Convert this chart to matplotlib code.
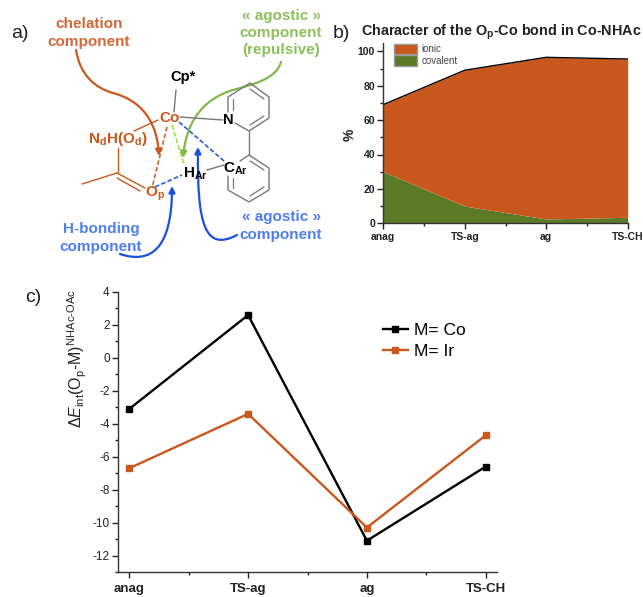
import matplotlib
matplotlib.use('Agg')
import matplotlib.pyplot as plt
from matplotlib.patches import FancyArrowPatch, Patch
from matplotlib.path import Path

plt.rcParams['font.family'] = ['Liberation Sans', 'DejaVu Sans']
plt.rcParams['mathtext.fontset'] = 'custom'
plt.rcParams['mathtext.rm'] = 'Liberation Sans'
plt.rcParams['mathtext.it'] = 'Liberation Sans:italic'
plt.rcParams['mathtext.bf'] = 'Liberation Sans:bold'

W, H = 643, 597

# data
states = ['anag', 'TS-ag', 'ag', 'TS-CH']
covalent = [30, 10, 2.5, 3.5]
ionic = [39, 79, 94, 92]
e_co = [-3.1, 2.6, -11.1, -6.6]
e_ir = [-6.7, -3.4, -10.3, -4.7]

ORANGE = '#c8581e'
GREEN = '#5a7a26'
T_ORANGE = '#d2683a'
T_GREEN = '#8dbf5a'
T_BLUE = '#4f7fef'
BLUE = '#1a50e0'
TEXT = '#222222'


def px_axes(fig, left, top, right, bottom):
    return fig.add_axes([left / W, 1 - bottom / H, (right - left) / W, (bottom - top) / H])


def style_axis(ax, size):
    ax.spines['top'].set_visible(False)
    ax.spines['right'].set_visible(False)
    ax.tick_params(which='major', length=4, width=1, labelsize=size, pad=2, colors=TEXT)
    ax.tick_params(which='minor', length=2, width=1, colors=TEXT)
    for s in ['left', 'bottom']:
        ax.spines[s].set_color('#333333')
        ax.spines[s].set_linewidth(1)


fig = plt.figure(figsize=(W / 100, H / 100), dpi=100)

# ---- panel b
ax_b = px_axes(fig, 383.3, 42.7, 627.7, 223.3)
total = [c + i for c, i in zip(covalent, ionic)]
x = range(len(states))
ax_b.fill_between(x, 0, covalent, color=GREEN, lw=0)
ax_b.fill_between(x, covalent, total, color=ORANGE, lw=0)
ax_b.plot(x, total, color='black', lw=1)
ax_b.set_xlim(0, 3)
ax_b.set_ylim(0, 105)
ax_b.set_xticks(list(x), states, fontweight='bold')
ax_b.set_xticks([0.5, 1.5, 2.5], minor=True)
ax_b.set_yticks(range(0, 101, 20))
ax_b.set_yticks(range(10, 100, 20), minor=True)
style_axis(ax_b, 7.5)
for lab in ax_b.get_yticklabels():
    lab.set_fontweight('bold')
ax_b.set_ylabel('%', fontsize=10, fontweight='bold', color=TEXT)
ax_b.yaxis.set_label_coords(-0.11, 0.49)
ax_b.legend(handles=[Patch(facecolor=ORANGE, edgecolor='#999999', label='ionic'),
                     Patch(facecolor=GREEN, edgecolor='#999999', label='covalent')],
            loc='upper left', bbox_to_anchor=(0.044, 0.993), frameon=False, fontsize=7,
            labelcolor='#444444', handlelength=2.4, handleheight=1.25, handletextpad=0.4,
            labelspacing=0.1, borderpad=0, borderaxespad=0)

# ---- panel c
ax_c = px_axes(fig, 118, 292, 497, 572)
ax_c.plot(states, e_co, color='black', lw=1.7, marker='s', ms=4.5, label='M= Co')
ax_c.plot(states, e_ir, color=ORANGE, lw=1.7, marker='s', ms=4.5, label='M= Ir')
ax_c.set_xlim(-0.095, 3.095)
ax_c.set_ylim(-13, 4)
ax_c.set_xticks([0.5, 1.5, 2.5], minor=True)
ax_c.set_yticks(range(-12, 5, 2))
ax_c.set_yticks(range(-13, 4, 2), minor=True)
style_axis(ax_c, 8.5)
ax_c.tick_params(axis='x', which='major', labelsize=9.5, pad=4)
for lab in ax_c.get_xticklabels():
    lab.set_fontweight('bold')
ax_c.set_yticklabels([str(v) for v in range(-12, 5, 2)])
ax_c.set_ylabel(r'$\Delta E_{\mathrm{int}}(\mathrm{O_p}$-$\mathrm{M})^{\mathrm{NHAc}\text{-}\mathrm{OAc}}$',
                fontsize=11.5, color=TEXT)
ax_c.yaxis.set_label_coords(-0.0765, 0.764)
ax_c.legend(loc='upper left', bbox_to_anchor=(0.70, 0.89), frameon=False, fontsize=12.5,
            handlelength=1.4, handletextpad=0.35, labelspacing=0.32, borderpad=0, borderaxespad=0)

# ---- overlay for panel a and the letters, in image pixels
ov = fig.add_axes([0, 0, 1, 1], zorder=5)
ov.set_xlim(0, W)
ov.set_ylim(H, 0)
ov.axis('off')
ov.patch.set_alpha(0)

ov.text(11, 34, 'a)', fontsize=14, color=TEXT, va='center')
ov.text(333, 33, 'b)', fontsize=14, color=TEXT, va='center')
ov.text(25, 297, 'c)', fontsize=14, color=TEXT, va='center')
ov.text(361, 32, r'Character of the O$_{\mathbf{p}}$-Co bond in Co-NHAc', fontsize=10.4,
        fontweight='bold', color=TEXT, va='center')


def seg(points, color='#777777', lw=1.0, ls='-'):
    xs, ys = zip(*points)
    ov.plot(xs, ys, color=color, lw=lw, ls=ls, solid_capstyle='round')


# bipyridine-like rings
seg([(228, 112), (228, 97), (250, 83), (269, 97), (269, 118), (249, 131), (235, 123)])
seg([(233, 99), (233, 110)], lw=0.9)
seg([(250, 89), (264, 99)], lw=0.9)
seg([(264, 116), (250, 125)], lw=0.9)
seg([(249, 131), (249, 155)])
seg([(249, 155), (269, 168), (269, 190), (249, 202), (228, 190), (228, 176)])
seg([(250, 161), (264, 170)], lw=0.9)
seg([(264, 187), (250, 196)], lw=0.9)
seg([(233, 178), (233, 188)], lw=0.9)
seg([(249, 155), (240, 161)])

# bonds
seg([(176, 90), (174, 112)])
seg([(180, 117), (223, 120)])
seg([(207, 170), (224, 165)])
seg([(158, 120), (134, 131)], color=ORANGE)
seg([(118, 148), (118, 172)], color=ORANGE)
seg([(117, 173), (82, 184)], color=ORANGE)
seg([(117, 173), (145, 188)], color=ORANGE)
seg([(117, 178), (140, 191)], color=ORANGE)
seg([(167, 127), (152, 188)], color=ORANGE, lw=1.1, ls=(0, (3, 1.5)))
seg([(155, 187), (182, 175)], color=BLUE, lw=1.1, ls=(0, (3, 1.5)))
seg([(179, 122), (224, 161)], color=BLUE, lw=1.1, ls=(0, (3, 1.5)))
seg([(172, 125), (184, 165)], color='#a6e04a', lw=1.2, ls=(0, (3, 1.2)))

# atom labels
bold = dict(fontweight='bold', ha='center', va='center')
ov.text(183, 77, 'Cp*', fontsize=10.5, color='black', **bold)
ov.text(170, 118, 'Co', fontsize=11, color=ORANGE, **bold)
ov.text(228, 120, 'N', fontsize=10.5, color='black', **bold)
ov.text(118, 139, r'N$_{\mathbf{d}}$H(O$_{\mathbf{d}}$)', fontsize=11, color=ORANGE, **bold)
ov.text(155, 194, r'O$_{\mathbf{p}}$', fontsize=11, color=ORANGE, **bold)
ov.text(195, 174, r'H$_{\mathbf{Ar}}$', fontsize=11, color='black', **bold)
ov.text(235, 169, r'C$_{\mathbf{Ar}}$', fontsize=11, color='black', **bold)

# component captions
ov.text(89, 33, 'chelation\ncomponent', fontsize=11, color=T_ORANGE, linespacing=1.35, **bold)
ov.text(281, 33, '« agostic »\ncomponent\n(repulsive)', fontsize=11, color=T_GREEN,
        linespacing=1.3, **bold)
ov.text(101, 238, 'H-bonding\ncomponent', fontsize=11, color=T_BLUE, linespacing=1.3, **bold)
ov.text(281, 226, '« agostic »\ncomponent', fontsize=11, color=T_BLUE, linespacing=1.3, **bold)


def curve(points, color):
    # cubic beziers: start point, then triples of control/control/end
    codes = [Path.MOVETO] + [Path.CURVE4] * (len(points) - 1)
    ov.add_patch(FancyArrowPatch(path=Path(points, codes), arrowstyle='-|>', mutation_scale=9,
                                 color=color, lw=1.6, fill=False, shrinkA=0, shrinkB=0))


curve([(76, 50), (80, 75), (95, 88), (113, 93), (140, 100), (157, 120), (159, 156)], ORANGE)
curve([(281, 62), (276, 80), (250, 85), (233, 90), (200, 100), (186, 125), (183, 158)], '#80b84c')
curve([(120, 254), (150, 264), (172, 250), (172, 186)], BLUE)
curve([(237, 235), (205, 252), (197, 225), (198, 147)], BLUE)

fig.savefig('out.png', dpi=100)
